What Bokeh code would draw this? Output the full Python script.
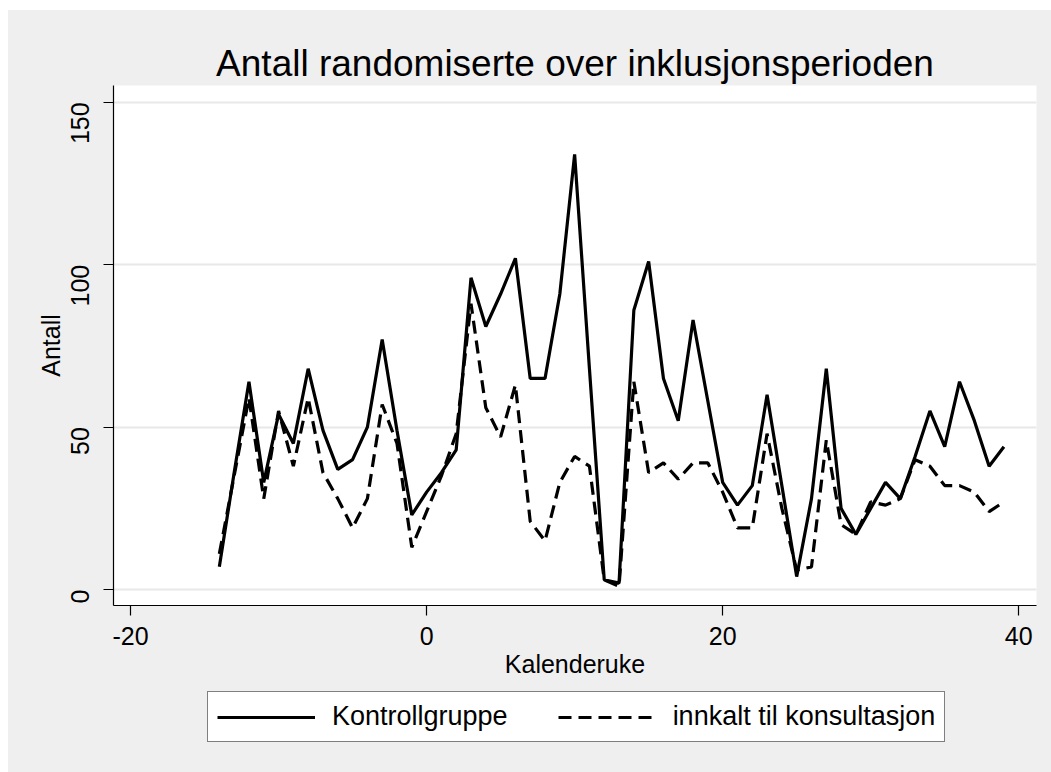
import math
import numpy as np
from bokeh.plotting import figure
from bokeh.models import Legend, LegendItem, FixedTicker, Range1d
from bokeh.layouts import column
from bokeh.embed import file_html
from bokeh.resources import INLINE

weeks = list(range(-14, 40))
kontroll = [7, 36, 64, 33, 54, 45, 68, 49, 37, 40, 50, 77, 49, 23,
            30, 36, 43, 96, 81, 91, 102, 65, 65, 91, 134, 68, 3, 2,
            86, 101, 65, 52, 83, 58, 33, 26, 32, 60, 32, 4, 28, 68,
            25, 17, 25, 33, 28, 41, 55, 44, 64, 52, 38, 44]
innkalt = [11, 35, 59, 28, 55, 38, 59, 36, 28, 19, 28, 57, 45, 13,
           24, 35, 48, 88, 56, 47, 63, 21, 15, 33, 41, 38, 3, 1,
           64, 36, 39, 34, 39, 39, 30, 19, 19, 48, 25, 6, 7, 46,
           20, 17, 27, 26, 28, 40, 38, 32, 32, 30, 24, 27]

x_ticks = [-20, 0, 20, 40]
y_ticks = [0, 50, 100, 150]
title_text = "Antall randomiserte over inklusjonsperioden"
x_label = "Kalenderuke"
y_label = "Antall"
series_names = ["Kontrollgruppe", "innkalt til konsultasjon"]

FONT = "Liberation Sans"
BG = "#efefef"
DASH = "13 7"
LW = 3.2

p = figure(width=1043, height=675, output_backend="svg", toolbar_location=None,
           x_range=Range1d(-21.15, 41.2), y_range=Range1d(-4.9, 155.2),
           min_border_left=105, min_border_right=15, min_border_top=75,
           min_border_bottom=80)

p.border_fill_color = BG
p.background_fill_color = "white"
p.outline_line_color = None

p.title.text = title_text
p.title.text_font = FONT
p.title.text_font_size = "37px"
p.title.text_font_style = "normal"
p.title.align = "center"
p.title.text_color = "black"
p.title.standoff = 4

r1 = p.line(weeks, kontroll, line_color="black", line_width=LW)
r2 = p.line(weeks, innkalt, line_color="black", line_width=LW, line_dash=DASH)

p.xgrid.grid_line_color = None
p.ygrid.grid_line_color = "#e8e8e8"
p.ygrid.grid_line_width = 2
p.ygrid.ticker = FixedTicker(ticks=y_ticks)

for ax in (p.xaxis[0], p.yaxis[0]):
    ax.axis_line_color = "black"
    ax.axis_line_width = 1.2
    ax.major_tick_line_color = "black"
    ax.major_tick_line_width = 1.2
    ax.major_tick_out = 10
    ax.major_tick_in = 0
    ax.minor_tick_line_color = None
    ax.major_label_text_font = FONT
    ax.major_label_text_font_size = "25px"
    ax.major_label_text_color = "black"
    ax.axis_label_text_font = FONT
    ax.axis_label_text_font_size = "25px"
    ax.axis_label_text_font_style = "normal"
    ax.axis_label_text_color = "black"

p.xaxis.ticker = FixedTicker(ticks=x_ticks)
p.yaxis.ticker = FixedTicker(ticks=y_ticks)
p.xaxis.major_label_overrides = {t: str(t) for t in x_ticks}
p.yaxis.major_label_overrides = {t: str(t) for t in y_ticks}
p.xaxis.axis_label = x_label
p.yaxis.axis_label = y_label
p.yaxis.major_label_orientation = math.pi / 2
p.xaxis.major_label_standoff = 11
p.xaxis.axis_label_standoff = 2
p.yaxis.major_label_standoff = 23
p.yaxis.axis_label_standoff = -5

# legend holder below the main plot (its frame lines up with the main frame)
p2 = figure(width=1043, height=87, output_backend="svg", toolbar_location=None,
            x_range=Range1d(0, 1), y_range=Range1d(0, 1),
            min_border_left=105, min_border_right=15, min_border_top=0,
            min_border_bottom=0,
            x_axis_location=None, y_axis_location=None)
p2.border_fill_color = None
p2.background_fill_color = None
p2.outline_line_color = None
p2.grid.visible = False
nan = np.array([np.nan])
d1 = p2.line(x=nan, y=nan, line_color="black", line_width=LW)
d2 = p2.line(x=nan, y=nan, line_color="black", line_width=LW, line_dash=DASH)

legend = Legend(items=[LegendItem(label=series_names[0], renderers=[d1]),
                       LegendItem(label=series_names[1], renderers=[d2])],
                orientation="horizontal", location=(94, 30))
legend.label_text_font = FONT
legend.label_text_font_size = "27px"
legend.label_text_color = "black"
legend.glyph_width = 98
legend.glyph_height = 28
legend.label_height = 28
legend.label_standoff = 17
legend.spacing = 50
legend.padding = 9
legend.margin = 0
legend.border_line_color = "black"
legend.border_line_width = 1.2
legend.background_fill_color = "white"
legend.background_fill_alpha = 1
p2.add_layout(legend, "center")

layout = column(p, p2, spacing=0, styles={"background-color": BG})
layout.margin = (10, 0, 0, 8)
open("out.html", "w").write(file_html(layout, INLINE))
